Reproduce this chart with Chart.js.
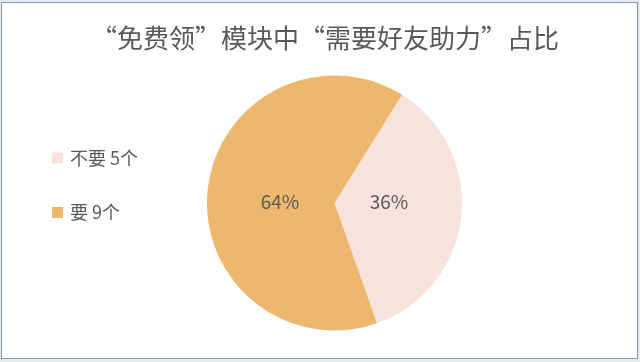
<!DOCTYPE html>
<html>
<head>
<meta charset="utf-8">
<script src="https://cdn.jsdelivr.net/npm/chart.js@4.4.0/dist/chart.umd.min.js"></script>
<style>
    html, body { margin: 0; padding: 0; background: #e4ebef; }
    #wrap {
        position: absolute; left: 1px; top: 2px; width: 635px; height: 355px;
        border: 1px solid #8797a3; background: #fff;
    }
    #myChart { position: absolute; left: -2px; top: -3px; }
</style>
</head>
<body>
<div id="wrap"><canvas id="myChart" width="640" height="362"></canvas></div>
<script>
const titleText = '“免费领”模块中“需要好友助力”占比';
const categories = ['不要 5个', '要 9个'];
const counts = [5, 9];
const pctLabels = ['36%', '64%'];
const colors = ['#f8e3dc', '#edb86e'];

const fontFam = '"Noto Sans CJK SC", "Noto Sans", sans-serif';
const textColor = '#595959';

// 标题、图例、百分比标签
const decor = {
    id: 'decor',
    afterDraw(chart) {
        const ctx = chart.ctx;
        ctx.save();
        ctx.fillStyle = textColor;
        ctx.textBaseline = 'middle';

        ctx.font = '26px ' + fontFam;
        ctx.textAlign = 'center';
        ctx.fillText(titleText, 325, 38);

        ctx.font = '18px ' + fontFam;
        ctx.textAlign = 'left';
        categories.forEach((c, i) => {
            const y = 158 + i * 54.5;
            ctx.fillStyle = colors[i];
            ctx.fillRect(52, y - 5.5, 11, 11);
            ctx.fillStyle = textColor;
            ctx.fillText(c, 70, y);
        });

        ctx.font = '19px ' + fontFam;
        ctx.textAlign = 'center';
        const meta = chart.getDatasetMeta(0);
        meta.data.forEach((arc, i) => {
            const p = arc.getProps(['x', 'y', 'startAngle', 'endAngle', 'outerRadius'], true);
            const mid = (p.startAngle + p.endAngle) / 2;
            const r = p.outerRadius * 0.43;
            ctx.fillText(pctLabels[i], p.x + Math.cos(mid) * r, p.y - 1);
        });
        ctx.restore();
    }
};

new Chart(document.getElementById('myChart'), {
    type: 'pie',
    data: {
        labels: categories,
        datasets: [{
            data: counts,
            backgroundColor: colors,
            borderWidth: 0
        }]
    },
    options: {
        responsive: false,
        animation: false,
        rotation: 32,
        layout: { padding: { left: 207, right: 178, top: 75, bottom: 31 } },
        plugins: {
            legend: { display: false },
            tooltip: { enabled: false }
        }
    },
    plugins: [decor]
});
</script>
</body>
</html>
